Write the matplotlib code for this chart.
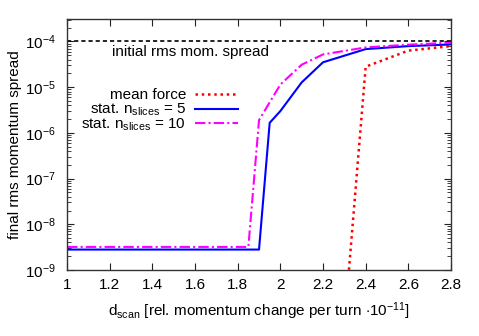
import matplotlib
matplotlib.use("Agg")
import matplotlib.pyplot as plt
from matplotlib.ticker import LogLocator, FixedLocator, NullFormatter

plt.rcParams['font.family'] = ['Liberation Sans', 'DejaVu Sans']
plt.rcParams['mathtext.fontset'] = 'custom'
plt.rcParams['mathtext.rm'] = 'Liberation Sans'
plt.rcParams['mathtext.it'] = 'Liberation Sans'

# data
x_mean = [2.3, 2.4, 2.6, 2.8]
y_mean = [6e-11, 2.8e-5, 6.3e-5, 7.9e-5]

x_s5 = [1.0, 1.2, 1.4, 1.6, 1.8, 1.9, 1.95, 2.0, 2.1, 2.2, 2.4, 2.6, 2.8]
y_s5 = [2.8e-9, 2.8e-9, 2.8e-9, 2.8e-9, 2.8e-9, 2.8e-9, 1.66e-6, 3.0e-6, 1.27e-5, 3.5e-5, 6.8e-5, 7.9e-5, 8.6e-5]

x_s10 = [1.0, 1.2, 1.4, 1.6, 1.8, 1.85, 1.9, 2.0, 2.1, 2.2, 2.4, 2.6, 2.8]
y_s10 = [3.2e-9, 3.2e-9, 3.2e-9, 3.2e-9, 3.2e-9, 3.2e-9, 1.9e-6, 1.14e-5, 3.1e-5, 5.2e-5, 7.4e-5, 8.5e-5, 9.4e-5]

init_spread = 1e-4

labels = ['mean force', 'stat. n$_{\\mathrm{slices}}$ = 5', 'stat. n$_{\\mathrm{slices}}$ = 10']

xticks = [1, 1.2, 1.4, 1.6, 1.8, 2, 2.2, 2.4, 2.6, 2.8]
xticklabels = ['1', '1.2', '1.4', '1.6', '1.8', '2', '2.2', '2.4', '2.6', '2.8']
yticks = [1e-9, 1e-8, 1e-7, 1e-6, 1e-5, 1e-4]
yticklabels = ['10$^{-9}$', '10$^{-8}$', '10$^{-7}$', '10$^{-6}$', '10$^{-5}$', '10$^{-4}$']

FS = 11

fig = plt.figure(figsize=(4.79, 3.36), dpi=100)
ax = fig.add_axes([0.14, 0.1964, 0.8015, 0.7471])

ax.axhline(init_spread, color='black', ls=(0, (2.5, 1.8)), lw=1.2)
ax.text(1.577, 6.0e-5, 'initial rms mom. spread', ha='center', va='center', fontsize=FS)

l1, = ax.plot(x_mean, y_mean, color='#ff0000', ls=(0, (1, 1.5)), lw=1.8)
l2, = ax.plot(x_s5, y_s5, color='#0000ff', ls='-', lw=1.5)
l3, = ax.plot(x_s10, y_s10, color='#ff00ff', ls=(0, (5, 1.5, 1, 1.5)), lw=1.5)

ax.set_yscale('log')
ax.set_xlim(1, 2.8)
ax.set_ylim(1e-9, 3.1e-4)
ax.xaxis.set_major_locator(FixedLocator(xticks))
ax.set_xticklabels(xticklabels)
ax.yaxis.set_major_locator(FixedLocator(yticks))
ax.set_yticklabels(yticklabels)
ax.yaxis.set_minor_locator(LogLocator(base=10, subs=range(2, 10), numticks=20))
ax.yaxis.set_minor_formatter(NullFormatter())

ax.tick_params(which='both', direction='in', top=True, right=True, labelsize=FS, color='#222222')
ax.tick_params(which='major', length=5)
ax.tick_params(axis='x', which='major', pad=6)
ax.tick_params(axis='y', which='major', pad=8)
ax.tick_params(which='minor', length=3)
for s in ax.spines.values():
    s.set_color('#333333')
    s.set_linewidth(1)

ax.set_xlabel('d$_{\\mathrm{scan}}$ [rel. momentum change per turn $\\cdot$10$^{-11}$]', fontsize=FS, labelpad=6)
ax.set_ylabel('final rms momentum spread', fontsize=FS, labelpad=2)

# one legend entry per row, stacked with even spacing (gnuplot-style key)
row_y = [0.697, 0.637, 0.578]
handles = [l1, l2, l3]
for i, (h, lab) in enumerate(zip(handles, labels)):
    leg = ax.legend([h], [lab], loc='center right', bbox_to_anchor=(0.445, row_y[i]),
                    frameon=False, fontsize=FS, markerfirst=False, handlelength=2.8,
                    handletextpad=0.6, borderaxespad=0.0, borderpad=0.0)
    if i < len(handles) - 1:
        ax.add_artist(leg)

fig.savefig('out.png', dpi=100)
